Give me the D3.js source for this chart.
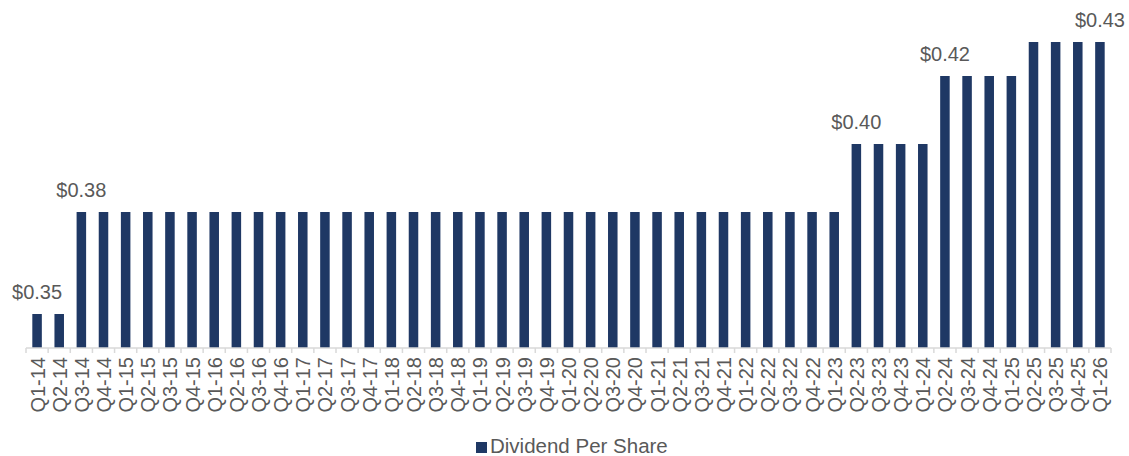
<!DOCTYPE html>
<html>

<head>
    <meta charset="utf-8">
    <style>
        body {
            margin: 0;
            background: white;
            font-family: 'Liberation Sans', Arial, sans-serif;
        }

        svg {
            display: block;
        }
    </style>
</head>

<body>
    <svg width="1129" height="456"></svg>

    <script src="https://d3js.org/d3.v7.min.js"></script>
    <script>
        // quarters Q1-14 .. Q1-26
        let quarters = [
            "Q1-14", "Q2-14", "Q3-14", "Q4-14",
            "Q1-15", "Q2-15", "Q3-15", "Q4-15",
            "Q1-16", "Q2-16", "Q3-16", "Q4-16",
            "Q1-17", "Q2-17", "Q3-17", "Q4-17",
            "Q1-18", "Q2-18", "Q3-18", "Q4-18",
            "Q1-19", "Q2-19", "Q3-19", "Q4-19",
            "Q1-20", "Q2-20", "Q3-20", "Q4-20",
            "Q1-21", "Q2-21", "Q3-21", "Q4-21",
            "Q1-22", "Q2-22", "Q3-22", "Q4-22",
            "Q1-23", "Q2-23", "Q3-23", "Q4-23",
            "Q1-24", "Q2-24", "Q3-24", "Q4-24",
            "Q1-25", "Q2-25", "Q3-25", "Q4-25",
            "Q1-26"
        ]

        let dividends = [
            0.35, 0.35, 0.38, 0.38,
            0.38, 0.38, 0.38, 0.38,
            0.38, 0.38, 0.38, 0.38,
            0.38, 0.38, 0.38, 0.38,
            0.38, 0.38, 0.38, 0.38,
            0.38, 0.38, 0.38, 0.38,
            0.38, 0.38, 0.38, 0.38,
            0.38, 0.38, 0.38, 0.38,
            0.38, 0.38, 0.38, 0.38,
            0.38, 0.40, 0.40, 0.40,
            0.40, 0.42, 0.42, 0.42,
            0.42, 0.43, 0.43, 0.43,
            0.43
        ]

        // quarters that carry a value label
        let labelled = ["Q1-14", "Q3-14", "Q2-23", "Q2-24", "Q1-26"]

        let data = quarters.map((q, i) => ({ q: q, v: dividends[i] }))

        let navy = "#1f3864"
        let textGrey = "#595959"

        let svg = d3.select("svg")

        let x = d3.scaleBand()
            .domain(quarters)
            .range([26, 1111])
            .paddingInner(0.57)
            .paddingOuter(0.285)

        let y = d3.scaleLinear()
            .domain([0.34, 0.44])
            .range([348, 8])

        // bars
        svg.append("g")
            .selectAll("rect")
            .data(data)
            .join("rect")
            .attr("x", d => x(d.q))
            .attr("y", d => y(d.v))
            .attr("width", x.bandwidth())
            .attr("height", d => y(0.34) - y(d.v))
            .attr("fill", navy)

        // category axis, ticks at band edges like excel
        let step = x.step()
        let x0 = x.range()[0]
        let edges = d3.range(quarters.length + 1).map(i => x0 + i * step)

        let axis = svg.append("g")
        axis.append("line")
            .attr("x1", x0)
            .attr("x2", x.range()[1])
            .attr("y1", y(0.34))
            .attr("y2", y(0.34))
            .attr("stroke", "#d9d9d9")
            .attr("stroke-width", 1.5)

        axis.selectAll(".tick")
            .data(edges)
            .join("line")
            .attr("class", "tick")
            .attr("x1", d => d)
            .attr("x2", d => d)
            .attr("y1", y(0.34))
            .attr("y2", y(0.34) + 5)
            .attr("stroke", "#d9d9d9")
            .attr("stroke-width", 1.5)

        axis.selectAll(".lbl")
            .data(quarters)
            .join("text")
            .attr("class", "lbl")
            .attr("transform", d => "translate(" + (x(d) + x.bandwidth() / 2 + 0.5) + "," + 357 + ") rotate(-90)")
            .attr("text-anchor", "end")
            .attr("dy", "0.35em")
            .style("font-size", "20px")
            .style("fill", textGrey)
            .text(d => d)

        // value labels
        svg.append("g")
            .selectAll("text")
            .data(data.filter(d => labelled.includes(d.q)))
            .join("text")
            .attr("x", d => x(d.q) + x.bandwidth() / 2)
            .attr("y", d => y(d.v) - 15)
            .attr("text-anchor", "middle")
            .style("font-size", "20px")
            .style("fill", textGrey)
            .text(d => "$" + d.v.toFixed(2))

        // legend
        let legend = svg.append("g")
        legend.append("rect")
            .attr("x", 476)
            .attr("y", 442)
            .attr("width", 11)
            .attr("height", 11)
            .attr("fill", navy)
        legend.append("text")
            .attr("x", 490)
            .attr("y", 453)
            .style("font-size", "20.5px")
            .style("fill", textGrey)
            .text("Dividend Per Share")
    </script>
</body>

</html>
